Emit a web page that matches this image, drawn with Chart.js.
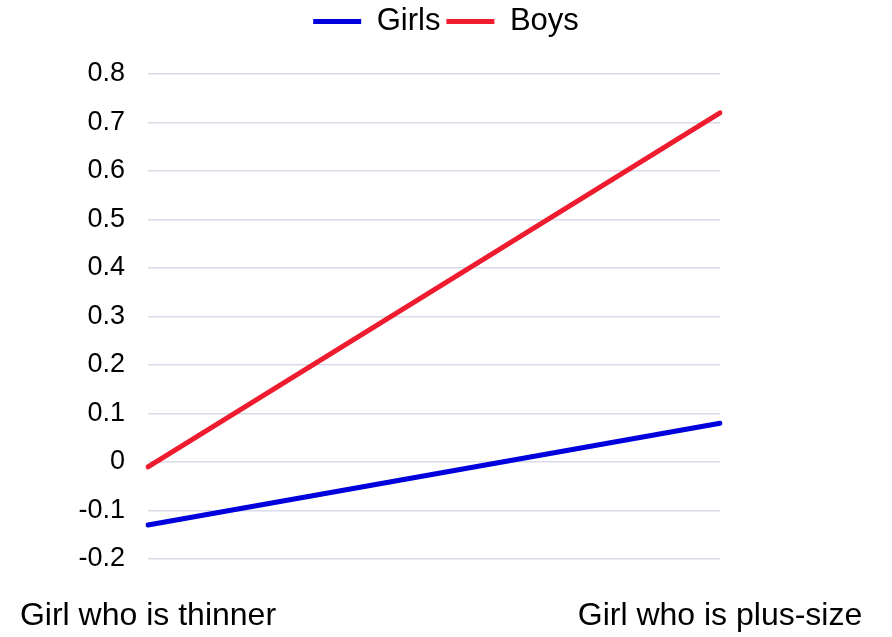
<!DOCTYPE html>
<html>
<head>
<meta charset="utf-8">
<script src="https://cdn.jsdelivr.net/npm/chart.js@4"></script>
<style>
  html, body { margin: 0; padding: 0; background: #fff; }
  #wrap { width: 892px; height: 637px; }
</style>
</head>
<body>
<div id="wrap"><canvas id="chart" width="892" height="637"></canvas></div>
<script>
// Categories and series
const categories = ["Girl who is thinner", "Girl who is plus-size"];
const girls = [-0.13, 0.08];
const boys = [-0.01, 0.72];

// Legend takes a fixed band at the top
const legendBand = {
    id: "legendBand",
    beforeInit(chart) {
        const fit = chart.legend.fit;
        chart.legend.fit = function () {
            fit.bind(chart.legend)();
            this.height = 74;
        };
    }
};

const ctx = document.getElementById("chart").getContext("2d");
new Chart(ctx, {
    type: "line",
    data: {
        labels: categories,
        datasets: [
            {
                label: "Girls",
                data: girls,
                borderColor: "#0000dd",
                backgroundColor: "#0000dd",
                borderWidth: 5,
                pointRadius: 0,
                borderCapStyle: "round"
            },
            {
                label: "Boys",
                data: boys,
                borderColor: "#ee1c2e",
                backgroundColor: "#ee1c2e",
                borderWidth: 5,
                pointRadius: 0,
                borderCapStyle: "round"
            }
        ]
    },
    options: {
        responsive: false,
        animation: false,
        layout: { padding: 0 },
        plugins: {
            legend: {
                position: "top",
                labels: {
                    font: { family: "Liberation Sans", size: 31 },
                    color: "#000",
                    usePointStyle: true,
                    pointStyle: "line",
                    pointStyleWidth: 48,
                    padding: 6
                }
            },
            tooltip: { enabled: false }
        },
        scales: {
            x: {
                offset: false,
                grid: { display: false, drawTicks: false },
                border: { display: false },
                ticks: {
                    font: { family: "Liberation Sans", size: 32 },
                    color: "#000",
                    padding: 38,
                    maxRotation: 0,
                    autoSkip: false
                },
                afterFit(scale) {
                    scale.height = 78;
                    scale.paddingLeft = 0;
                    scale.paddingRight = 172;
                }
            },
            y: {
                min: -0.2,
                max: 0.8,
                grid: { color: "#d9dce8", lineWidth: 1.5, drawTicks: false },
                border: { display: false },
                ticks: {
                    stepSize: 0.1,
                    font: { family: "Liberation Sans", size: 27 },
                    color: "#000",
                    padding: 23,
                    callback: v => Math.round(v * 10) / 10
                },
                afterFit(scale) {
                    scale.width = 148;
                }
            }
        }
    },
    plugins: [legendBand]
});
</script>
</body>
</html>
